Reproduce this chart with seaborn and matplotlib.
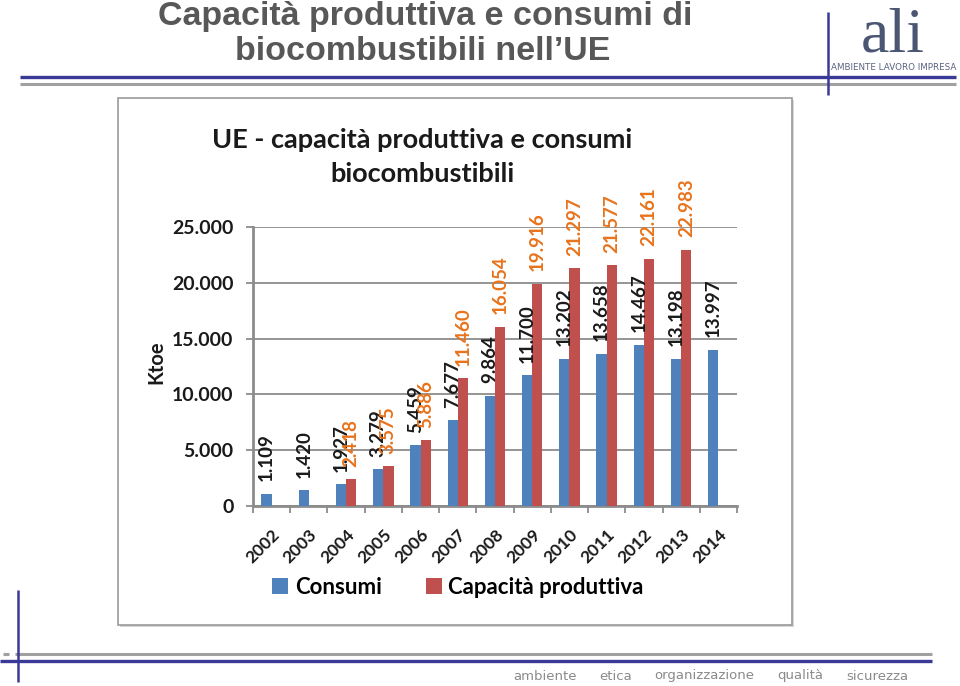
import matplotlib
matplotlib.use("Agg")
import matplotlib.pyplot as plt
import seaborn as sns
import pandas as pd
import numpy as np
from matplotlib.patches import Rectangle
from matplotlib.lines import Line2D
from matplotlib.ticker import FuncFormatter, FixedLocator

# ---------------- data ----------------
years = ["2002", "2003", "2004", "2005", "2006", "2007", "2008",
         "2009", "2010", "2011", "2012", "2013", "2014"]
consumi = [1109, 1420, 1927, 3279, 5459, 7677, 9864,
           11700, 13202, 13658, 14467, 13198, 13997]
capacita = [np.nan, np.nan, 2418, 3575, 5886, 11460, 16054,
            19916, 21297, 21577, 22161, 22983, np.nan]
series_names = ["Consumi", "Capacità produttiva"]
yticks = [0, 5000, 10000, 15000, 20000, 25000]

BLUE = "#4f81bd"
RED = "#c0504d"
ORANGE = "#e8731c"

df = pd.DataFrame({
    "Anno": years * 2,
    "Serie": [series_names[0]] * len(years) + [series_names[1]] * len(years),
    "Ktoe": consumi + capacita,
})

W, H = 960, 686
fig = plt.figure(figsize=(W / 100, H / 100), dpi=100)
fig.patch.set_facecolor("white")

def fx(x):
    return x / W

def fy(y):
    return 1 - y / H

def hline(x0, x1, y, color, lw):
    fig.add_artist(Line2D([fx(x0), fx(x1)], [fy(y), fy(y)], transform=fig.transFigure,
                          color=color, lw=lw, solid_capstyle="butt"))

def vline(x, y0, y1, color, lw):
    fig.add_artist(Line2D([fx(x), fx(x)], [fy(y0), fy(y1)], transform=fig.transFigure,
                          color=color, lw=lw, solid_capstyle="butt"))

# ---------------- slide decorations ----------------
TITLE_GRAY = "#585858"
fig.text(fx(425), fy(17), "Capacità produttiva e consumi di", ha="center", va="center",
         fontsize=24.5, fontweight="bold", color=TITLE_GRAY, family="Liberation Sans")
fig.text(fx(423), fy(52), "biocombustibili nell’UE", ha="center", va="center",
         fontsize=24.5, fontweight="bold", color=TITLE_GRAY, family="Liberation Sans")

NAVY = "#3a3a96"
hline(20, 956, 77, NAVY, 2.4)
hline(20, 956, 84, "#a0a0a0", 2.2)
vline(828, 12, 95, NAVY, 1.8)

# logo
fig.text(fx(893), fy(36), "ali", ha="center", va="center", fontsize=46,
         color="#4a5672", family="Liberation Serif")
fig.text(fx(894), fy(68), "AMBIENTE LAVORO IMPRESA", ha="center", va="center",
         fontsize=6.3, color="#5a6480", family="Liberation Sans Narrow")

# footer
hline(3, 9, 654, "#a0a0a0", 2.2)
hline(15, 932, 654, "#a0a0a0", 2.2)
hline(0, 932, 661, NAVY, 2.4)
vline(18, 590, 682, NAVY, 1.8)
for word, xpos in [("ambiente", 545), ("etica", 616), ("organizzazione", 704),
                   ("qualità", 800), ("sicurezza", 877)]:
    fig.text(fx(xpos), fy(676), word, ha="center", va="center", fontsize=9.5,
             color="#8a8a8a", family="Liberation Sans Narrow")

# chart frame (picture box)
fig.add_artist(Rectangle((fx(120), fy(627)), fx(792) - fx(118), fy(98) - fy(625),
                         transform=fig.transFigure, facecolor="#d8d8d8", edgecolor="none",
                         zorder=-3))
fig.add_artist(Rectangle((fx(118), fy(625)), fx(792) - fx(118), fy(98) - fy(625),
                         transform=fig.transFigure, facecolor="white", edgecolor="#9a9a9a",
                         lw=1.2, zorder=-2))

# chart title
CFONT = "Lato"
fig.text(fx(422), fy(140), "UE - capacità produttiva e consumi", ha="center", va="center",
         fontsize=19.5, fontweight="bold", color="#1a1a1a", family=CFONT)
fig.text(fx(422), fy(174), "biocombustibili", ha="center", va="center",
         fontsize=19.5, fontweight="bold", color="#1a1a1a", family=CFONT)

# ---------------- chart ----------------
ax = fig.add_axes([fx(253), fy(506), fx(737) - fx(253), fy(227) - fy(506)])
ax.set_zorder(2)
ax.set_facecolor("none")
sns.barplot(data=df, x="Anno", y="Ktoe", hue="Serie", hue_order=series_names,
            palette=[BLUE, RED], width=0.55, saturation=1, ax=ax, legend=False,
            errorbar=None, zorder=3)

ax.set_xlim(-0.5, len(years) - 0.5)
ax.set_ylim(0, 25000)
ax.set_yticks(yticks)
ax.yaxis.set_major_formatter(FuncFormatter(lambda v, p: f"{int(v):,}".replace(",", ".")))
ax.grid(axis="y", color="#8c8c8c", lw=1.3, zorder=0)
ax.grid(axis="x", visible=False)
ax.set_axisbelow(True)
for s in ["top", "right"]:
    ax.spines[s].set_visible(False)
for s in ["left", "bottom"]:
    ax.spines[s].set_color("#8c8c8c")
    ax.spines[s].set_linewidth(2)
ax.tick_params(axis="y", length=5, width=1.3, color="#8c8c8c", pad=9,
               labelsize=14, labelcolor="#1a1a1a")
ax.tick_params(axis="x", which="major", length=0, pad=14.5, labelsize=12.5, labelcolor="#1a1a1a")
ax.xaxis.set_minor_locator(FixedLocator(np.arange(-0.5, len(years), 1.0)))
ax.tick_params(axis="x", which="minor", length=5, width=1.3, color="#8c8c8c")
for lab in ax.get_yticklabels():
    lab.set_fontweight("bold")
    lab.set_family(CFONT)
for lab in ax.get_xticklabels():
    lab.set_fontweight("bold")
    lab.set_family(CFONT)
    lab.set_rotation(45)
    lab.set_ha("right")
    lab.set_rotation_mode("anchor")
ax.set_xlabel("")
ax.set_ylabel("")
fig.text(fx(156), fy(362), "Ktoe", rotation=90, ha="center", va="center",
         fontsize=14.5, fontweight="bold", color="#1a1a1a", family=CFONT)

# data labels
label_colors = ["#1a1a1a", ORANGE]
for cont, col in zip(ax.containers, label_colors):
    for bar in cont:
        h = bar.get_height()
        if h is None or np.isnan(h) or h <= 0:
            continue
        xc = bar.get_x() + bar.get_width() / 2
        ax.annotate(f"{int(round(h)):,}".replace(",", "."), (xc, h), xytext=(0, 9),
                    textcoords="offset points", rotation=90, ha="center", va="bottom",
                    fontsize=13.5, fontweight="bold", color=col, family=CFONT,
                    annotation_clip=False)

# legend
handles = [Rectangle((0, 0), 1, 1, facecolor=BLUE), Rectangle((0, 0), 1, 1, facecolor=RED)]
fig.legend(handles, series_names, loc="center", bbox_to_anchor=(fx(458), fy(587)),
           ncol=2, frameon=False, prop={"family": CFONT, "weight": "bold", "size": 16},
           handlelength=0.7, handleheight=0.7, handletextpad=0.3, columnspacing=2.0)

fig.savefig("out.png", dpi=100, facecolor="white")
